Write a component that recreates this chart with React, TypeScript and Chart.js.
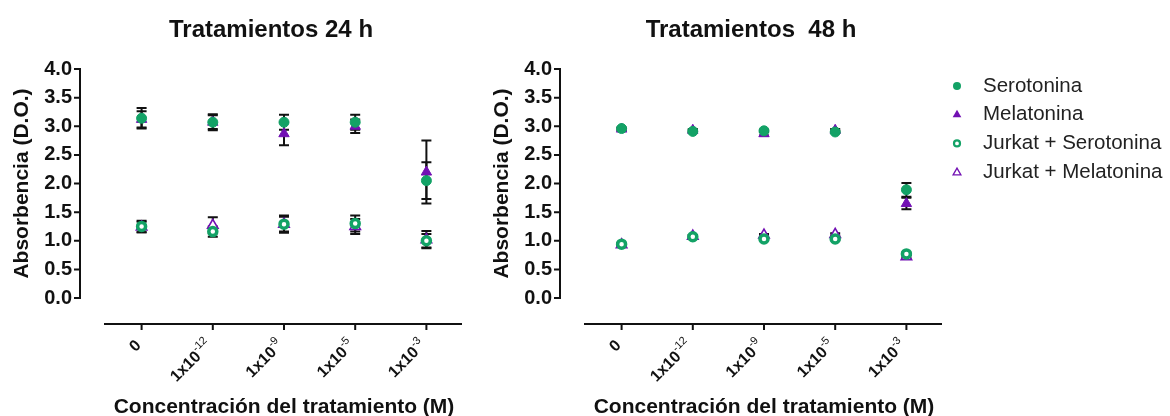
import React, { useEffect, useRef } from 'react';
import { Chart, registerables } from 'chart.js';

Chart.register(...registerables);

// ---------- data ----------
const categories = ['0', '1x10-12', '1x10-9', '1x10-5', '1x10-3'];
const tickBase = ['0', '1x10', '1x10', '1x10', '1x10'];
const tickExp = ['', '-12', '-9', '-5', '-3'];

const seriesNames = ['Serotonina', 'Melatonina', 'Jurkat + Serotonina', 'Jurkat + Melatonina'];

const title24 = 'Tratamientos 24 h';
const ser24 = [3.14, 3.07, 3.07, 3.07, 2.05];
const serSd24 = [0.18, 0.14, 0.13, 0.13, 0.32];
const mel24 = [3.12, 3.07, 2.87, 3.0, 2.2];
const melSd24 = [0.14, 0.12, 0.2, 0.12, 0.55];
const jSer24 = [1.25, 1.16, 1.29, 1.3, 1.0];
const jSerSd24 = [0.1, 0.09, 0.15, 0.14, 0.12];
const jMel24 = [1.24, 1.27, 1.29, 1.25, 1.02];
const jMelSd24 = [0.09, 0.14, 0.13, 0.13, 0.15];

const title48 = 'Tratamientos  48 h';
const ser48 = [2.96, 2.91, 2.92, 2.9, 1.89];
const serSd48 = [0.02, 0.02, 0.02, 0.02, 0.12];
const mel48 = [2.95, 2.93, 2.87, 2.93, 1.65];
const melSd48 = [0.02, 0.02, 0.03, 0.02, 0.1];
const jSer48 = [0.94, 1.07, 1.03, 1.03, 0.77];
const jSerSd48 = [0.02, 0.02, 0.02, 0.02, 0.02];
const jMel48 = [0.93, 1.08, 1.1, 1.11, 0.72];
const jMelSd48 = [0.02, 0.02, 0.02, 0.02, 0.02];

const yTitle = 'Absorbencia (D.O.)';
const xTitle = 'Concentración del tratamiento (M)';

// ---------- styles ----------
const GREEN = '#13a266';
const PURPLE = '#7210b3';
const FONT = '"Liberation Sans", Arial, sans-serif';
const INK = '#111';

const seriesStyles = [
  { pointStyle: 'circle', pointRadius: 5, pointBackgroundColor: GREEN, pointBorderColor: GREEN, pointBorderWidth: 1, legendFill: true },
  { pointStyle: 'triangle', pointRadius: 6, pointBackgroundColor: PURPLE, pointBorderColor: PURPLE, pointBorderWidth: 1, legendFill: true },
  { pointStyle: 'circle', pointRadius: 4, pointBackgroundColor: '#ffffff', pointBorderColor: GREEN, pointBorderWidth: 3.5, legendFill: false },
  { pointStyle: 'triangle', pointRadius: 6, pointBackgroundColor: '#ffffff', pointBorderColor: PURPLE, pointBorderWidth: 1.6, legendFill: false },
];

const AXIS_GAP = 26;

function markerPath(ctx: CanvasRenderingContext2D, style: string, x: number, y: number, r: number) {
  ctx.beginPath();
  if (style === 'circle') {
    ctx.arc(x, y, r, 0, Math.PI * 2);
  } else {
    for (let k = 0; k < 3; k++) {
      const a = (k * 2 * Math.PI) / 3;
      const px = x + Math.sin(a) * r;
      const py = y - Math.cos(a) * r;
      if (k === 0) ctx.moveTo(px, py);
      else ctx.lineTo(px, py);
    }
    ctx.closePath();
  }
}

const prismPlugin = {
  id: 'prism',
  beforeDatasetsDraw(chart: any) {
    const ctx = chart.ctx as CanvasRenderingContext2D;
    const xs = chart.scales.x;
    const ys = chart.scales.y;
    ctx.save();
    ctx.strokeStyle = INK;
    ctx.lineWidth = 2;
    chart.data.datasets.forEach((ds: any) => {
      ds.data.forEach((v: number, i: number) => {
        const e = ds.errors[i];
        if (!e) return;
        const x = xs.getPixelForValue(i);
        const top = ys.getPixelForValue(v + e);
        const bot = ys.getPixelForValue(v - e);
        ctx.beginPath();
        ctx.moveTo(x, top);
        ctx.lineTo(x, bot);
        ctx.moveTo(x - 5, top);
        ctx.lineTo(x + 5, top);
        ctx.moveTo(x - 5, bot);
        ctx.lineTo(x + 5, bot);
        ctx.stroke();
      });
    });
    ctx.restore();
  },
  afterDraw(chart: any, _args: any, opts: any) {
    const ctx = chart.ctx as CanvasRenderingContext2D;
    const xs = chart.scales.x;
    const ys = chart.scales.y;
    const area = chart.chartArea;
    const axisX = area.left - AXIS_GAP;
    const y0 = ys.getPixelForValue(0);
    const y4 = ys.getPixelForValue(4);
    const axisY = y0 + AXIS_GAP;

    ctx.save();
    ctx.strokeStyle = INK;
    ctx.fillStyle = INK;
    ctx.lineWidth = 2;

    // y axis
    ctx.beginPath();
    ctx.moveTo(axisX, y4 - 1);
    ctx.lineTo(axisX, y0 + 1);
    ys.ticks.forEach((t: any) => {
      const py = ys.getPixelForValue(t.value);
      ctx.moveTo(axisX - 6, py);
      ctx.lineTo(axisX, py);
    });
    ctx.stroke();

    // x axis
    ctx.beginPath();
    ctx.moveTo(area.left - 2, axisY);
    ctx.lineTo(area.right, axisY);
    categories.forEach((_c, i) => {
      const px = xs.getPixelForValue(i);
      ctx.moveTo(px, axisY);
      ctx.lineTo(px, axisY + 6);
    });
    ctx.stroke();

    // x tick labels (rotated, with superscript exponent)
    const baseFont = `bold 16px ${FONT}`;
    const expFont = `11px ${FONT}`;
    categories.forEach((_c, i) => {
      const px = xs.getPixelForValue(i);
      const base = tickBase[i];
      const exp = tickExp[i];
      ctx.save();
      ctx.translate(px - 3, axisY + 19);
      ctx.rotate(-Math.PI / 4);
      ctx.textBaseline = 'middle';
      ctx.textAlign = 'left';
      ctx.font = baseFont;
      const bw = ctx.measureText(base).width;
      ctx.font = expFont;
      const ew = exp ? ctx.measureText(exp).width : 0;
      ctx.font = baseFont;
      ctx.fillText(base, -(bw + ew), 0);
      if (exp) {
        ctx.font = expFont;
        ctx.fillText(exp, -ew, -6);
      }
      ctx.restore();
    });

    // axis titles
    ctx.font = `bold 21px ${FONT}`;
    ctx.textAlign = 'center';
    ctx.textBaseline = 'alphabetic';
    ctx.fillText(xTitle, (area.left + area.right) / 2, 413);

    ctx.save();
    ctx.translate(22, (y0 + y4) / 2);
    ctx.rotate(-Math.PI / 2);
    ctx.textBaseline = 'middle';
    ctx.fillText(yTitle, 0, 0);
    ctx.restore();

    // chart title
    ctx.font = `bold 24px ${FONT}`;
    ctx.textAlign = 'center';
    ctx.textBaseline = 'alphabetic';
    ctx.fillText(opts.title, (axisX + area.right) / 2, 37);

    // legend
    if (opts.legend) {
      const mx = area.right + 15;
      const tx = area.right + 41;
      chart.data.datasets.forEach((ds: any, i: number) => {
        const y = area.top + 17 + i * 28.7;
        const st = seriesStyles[i];
        if (st.legendFill) {
          markerPath(ctx, ds.pointStyle, mx, y, ds.pointStyle === 'circle' ? 4 : 5);
          ctx.fillStyle = ds.pointBorderColor;
          ctx.fill();
        } else {
          markerPath(ctx, ds.pointStyle, mx, ds.pointStyle === 'circle' ? y : y + 0.5, ds.pointStyle === 'circle' ? 3 : 4.5);
          ctx.fillStyle = '#fff';
          ctx.fill();
          ctx.strokeStyle = ds.pointBorderColor;
          ctx.lineWidth = ds.pointStyle === 'circle' ? 2.2 : 1.3;
          ctx.stroke();
        }
        ctx.fillStyle = '#222';
        ctx.font = `20.5px ${FONT}`;
        ctx.textAlign = 'left';
        ctx.textBaseline = 'middle';
        ctx.fillText(ds.label, tx, y);
      });
    }
    ctx.restore();
  },
};

function buildConfig(title: string, values: number[][], errors: number[][], legend: boolean, padRight: number): any {
  return {
    type: 'line',
    data: {
      labels: categories,
      datasets: seriesNames.map((name, i) => {
        const { legendFill, ...st } = seriesStyles[i] as any;
        return {
          label: name,
          data: values[i],
          errors: errors[i],
          showLine: false,
          clip: false,
          pointHoverRadius: st.pointRadius,
          ...st,
        };
      }),
    },
    options: {
      responsive: false,
      animation: false,
      events: [],
      layout: { padding: { left: 6, right: padRight, top: 69, bottom: 118 } },
      scales: {
        x: { type: 'category', offset: true, display: false },
        y: {
          type: 'linear',
          min: 0,
          max: 4,
          afterFit: (s: any) => {
            s.width = 100;
          },
          grid: { display: false, drawTicks: false },
          border: { display: false },
          ticks: {
            stepSize: 0.5,
            padding: 34,
            color: INK,
            font: { family: FONT, size: 20, weight: 'bold' },
            callback: (v: any) => Number(v).toFixed(1),
          },
        },
      },
      plugins: {
        legend: { display: false },
        tooltip: { enabled: false },
        prism: { title, legend },
      },
    },
    plugins: [prismPlugin],
  };
}

export default function App() {
  const leftRef = useRef<HTMLCanvasElement>(null);
  const rightRef = useRef<HTMLCanvasElement>(null);

  useEffect(() => {
    const c1 = new Chart(
      leftRef.current as HTMLCanvasElement,
      buildConfig(title24, [ser24, mel24, jSer24, jMel24], [serSd24, melSd24, jSerSd24, jMelSd24], false, 18)
    );
    const c2 = new Chart(
      rightRef.current as HTMLCanvasElement,
      buildConfig(title48, [ser48, mel48, jSer48, jMel48], [serSd48, melSd48, jSerSd48, jMelSd48], true, 228)
    );
    return () => {
      c1.destroy();
      c2.destroy();
    };
  }, []);

  return (
    <div style={{ position: 'absolute', left: 0, top: 0, width: 1170, height: 416, background: '#fff', overflow: 'hidden' }}>
      <canvas ref={leftRef} width={480} height={416} style={{ position: 'absolute', left: 0, top: 0 }} />
      <canvas ref={rightRef} width={690} height={416} style={{ position: 'absolute', left: 480, top: 0 }} />
    </div>
  );
}
